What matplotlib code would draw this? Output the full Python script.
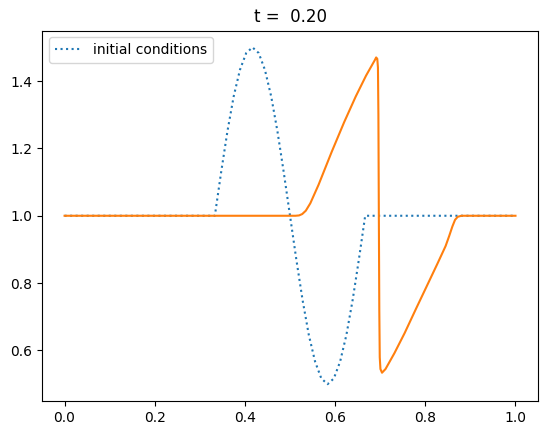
import matplotlib
matplotlib.use("Agg")
import matplotlib.pyplot as plt

# initial conditions
x_init = [0.0, 0.3333, 0.3472, 0.3611, 0.375, 0.3889, 0.4028, 0.4167, 0.4306,
          0.4444, 0.4583, 0.4722, 0.4861, 0.5, 0.5139, 0.5278, 0.5417, 0.5556,
          0.5694, 0.5833, 0.5972, 0.6111, 0.625, 0.6389, 0.6528, 0.6667, 1.0]
u_init = [1.0, 1.0, 1.129, 1.25, 1.354, 1.433, 1.483, 1.5, 1.483,
          1.433, 1.354, 1.25, 1.129, 1.0, 0.871, 0.75, 0.646, 0.567,
          0.517, 0.5, 0.517, 0.567, 0.646, 0.75, 0.871, 1.0, 1.0]

# solution at t = 0.20
x_sol = [0.0, 0.512, 0.52, 0.527, 0.535, 0.545, 0.5633, 0.5925, 0.6201, 0.6457,
         0.6686, 0.688, 0.691, 0.6935, 0.695, 0.696, 0.697, 0.698, 0.699, 0.7005,
         0.704, 0.7118, 0.7315, 0.7543, 0.7798, 0.8075, 0.827, 0.845, 0.853,
         0.860, 0.866, 0.872, 0.88, 1.0]
u_sol = [1.0, 1.0, 1.001, 1.005, 1.015, 1.037, 1.092, 1.19, 1.278, 1.354,
         1.416, 1.462, 1.470, 1.466, 1.44, 1.30, 1.00, 0.72, 0.58, 0.545,
         0.534, 0.545, 0.592, 0.652, 0.725, 0.803, 0.858, 0.91, 0.94,
         0.968, 0.988, 0.997, 1.0, 1.0]

t = 0.2

fig = plt.figure(figsize=(5.47, 4.34), dpi=100)
ax = fig.add_axes([0.0768, 0.076, 0.9068, 0.8537])
ax.plot(x_init, u_init, ':', label='initial conditions')
ax.plot(x_sol, u_sol)
ax.set_title("t = %5.2f" % t)
ax.legend(loc='upper left')

fig.savefig("out.png", dpi=100)
